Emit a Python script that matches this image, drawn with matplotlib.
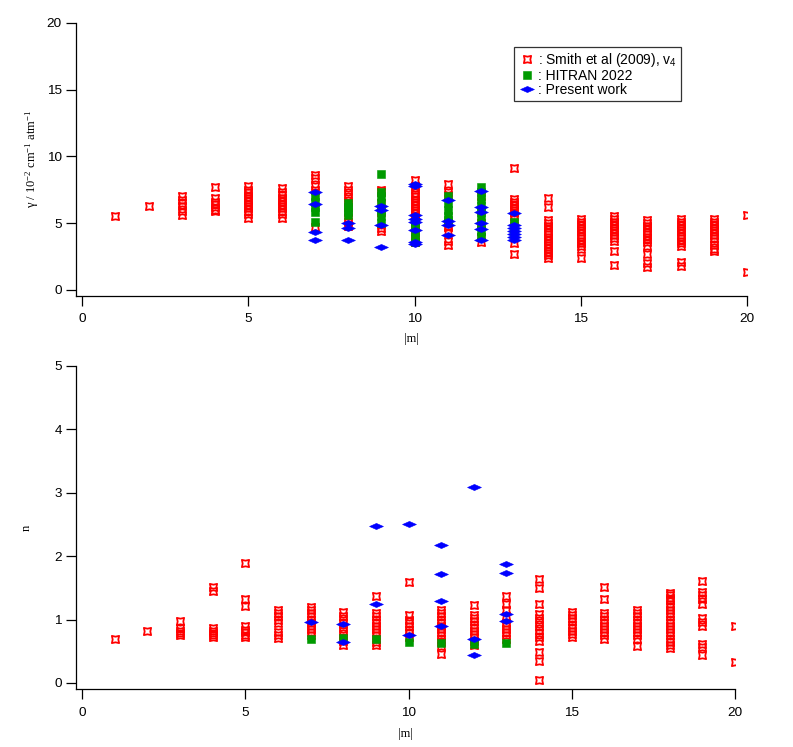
import matplotlib
matplotlib.use('Agg')
import matplotlib.pyplot as plt
import numpy as np
from matplotlib.path import Path

plt.rcParams['font.family'] = ['Liberation Sans', 'DejaVu Sans']
plt.rcParams['mathtext.fontset'] = 'custom'
plt.rcParams['mathtext.rm'] = 'Liberation Serif'
plt.rcParams['mathtext.it'] = 'Liberation Serif:italic'
plt.rcParams['mathtext.sf'] = 'Liberation Sans'

# ---- data: one list of values per |m| ----
# top panel: gamma (10^-2 cm^-1 atm^-1)
smith_m = list(range(1, 21))
smith_gamma = [
    [5.5],
    [6.26],
    [5.6, 5.9, 6.3, 6.5, 6.7, 7.0],
    [7.7, 6.9, 6.6, 6.4, 6.2, 6.0, 5.9],
    [7.8, 7.5, 7.3, 7.1, 6.9, 6.7, 6.5, 6.3, 6.1, 5.9, 5.7, 5.4],
    [7.6, 7.3, 7.1, 6.9, 6.7, 6.5, 6.3, 6.1, 5.9, 5.7, 5.4],
    [8.6, 8.4, 7.8, 7.5, 4.7],
    [7.8, 7.5, 7.2, 6.9, 6.6, 6.2, 5.8, 5.4, 5.1, 4.8],
    [7.5, 7.3, 6.5, 5.8, 4.6, 4.4],
    [8.2, 7.8, 7.5, 7.2, 7.0, 6.8, 6.6, 6.4, 6.2, 6.0, 5.8, 5.6, 5.4, 5.2, 5.0, 4.8, 4.5, 4.2, 3.9, 3.6],
    [7.9, 7.3, 7.1, 5.0, 4.7, 4.3, 3.7, 3.4],
    [7.0, 6.0, 5.0, 4.0, 3.6],
    [9.1, 6.8, 6.6, 6.4, 6.2, 6.0, 5.8, 5.5, 5.3, 3.5, 2.7],
    [6.9, 6.2, 5.2, 5.0, 4.8, 4.6, 4.4, 4.2, 4.0, 3.8, 3.6, 3.4, 3.2, 3.0, 2.8, 2.6, 2.4],
    [5.3, 5.1, 4.9, 4.7, 4.5, 4.3, 4.1, 3.9, 3.7, 3.5, 3.3, 3.1, 2.4],
    [5.5, 5.3, 5.1, 4.9, 4.7, 4.5, 4.3, 4.1, 3.9, 3.7, 2.9, 1.9],
    [5.2, 5.0, 4.8, 4.6, 4.4, 4.2, 4.0, 3.8, 3.6, 3.3, 2.7, 2.0, 1.7],
    [5.3, 5.1, 4.9, 4.7, 4.5, 4.3, 4.1, 3.9, 3.7, 3.5, 3.3, 2.1, 1.8],
    [5.3, 5.1, 4.9, 4.7, 4.5, 4.3, 4.1, 3.9, 3.7, 3.4, 3.1, 2.9],
    [5.6, 1.32],
]
hitran_m = list(range(7, 14))
hitran_gamma = [
    [7.0, 6.6, 6.2, 5.8, 5.1],
    [6.5, 6.2, 5.9, 5.6],
    [8.7, 7.3, 7.0, 6.5, 6.0, 5.5, 5.0],
    [5.1, 4.7, 4.3, 3.9, 3.6],
    [7.0, 6.5, 6.0, 5.5, 5.2],
    [7.7, 7.3, 6.8, 6.3, 5.8, 5.3, 4.8, 4.4, 4.0],
    [5.1, 4.6, 4.2],
]
present_m = list(range(7, 14))
present_gamma = [
    [7.35, 6.43, 4.31, 3.74],
    [4.99, 4.61, 3.74],
    [6.28, 5.98, 4.86, 3.19],
    [7.93, 7.8, 5.6, 5.3, 5.1, 4.49, 3.61, 3.44],
    [6.73, 5.18, 4.86, 4.11],
    [7.43, 6.23, 5.86, 4.99, 4.54, 3.74],
    [5.78, 4.86, 4.6, 4.4, 4.2, 4.0, 3.74],
]

# bottom panel: temperature exponent n
smith_n = [
    [0.70],
    [0.82],
    [0.97, 0.86, 0.82, 0.79, 0.76],
    [1.51, 1.45, 0.86, 0.82, 0.79, 0.76, 0.73],
    [1.89, 1.32, 1.22, 0.90, 0.84, 0.80, 0.76, 0.72],
    [1.15, 1.10, 1.05, 1.00, 0.95, 0.80, 0.75, 0.71],
    [1.20, 1.15, 1.10, 1.05, 1.00, 0.95, 0.90, 0.85, 0.80, 0.76],
    [1.12, 1.05, 1.00, 0.95, 0.88, 0.82, 0.76, 0.70, 0.66, 0.60],
    [1.37, 1.10, 1.05, 1.00, 0.95, 0.90, 0.85, 0.80, 0.75, 0.70, 0.64, 0.60],
    [1.59, 1.07, 1.00, 0.95, 0.90, 0.84, 0.78, 0.72],
    [1.15, 1.10, 1.05, 1.00, 0.95, 0.90, 0.85, 0.80, 0.75, 0.70, 0.65, 0.58, 0.46],
    [1.23, 1.07, 1.02, 0.97, 0.92, 0.87, 0.82, 0.77, 0.72, 0.66, 0.60],
    [1.37, 1.25, 1.15, 1.05, 0.95, 0.90, 0.85, 0.80, 0.75, 0.70],
    [1.64, 1.49, 1.24, 1.08, 1.02, 0.96, 0.90, 0.84, 0.78, 0.72, 0.66, 0.49, 0.35, 0.05],
    [1.12, 1.07, 1.02, 0.97, 0.92, 0.87, 0.82, 0.77, 0.73],
    [1.51, 1.32, 1.10, 1.05, 1.00, 0.95, 0.90, 0.85, 0.80, 0.75, 0.70],
    [1.15, 1.10, 1.05, 1.00, 0.95, 0.90, 0.85, 0.80, 0.75, 0.70, 0.59],
    [1.42, 1.38, 1.34, 1.30, 1.25, 1.20, 1.15, 1.10, 1.05, 1.00, 0.95, 0.90, 0.85, 0.80, 0.75, 0.70, 0.65, 0.60, 0.55],
    [1.60, 1.44, 1.38, 1.32, 1.25, 1.02, 0.96, 0.90, 0.62, 0.56, 0.44],
    [0.90, 0.33],
]
hitran_n = [[0.70], [0.71], [0.69], [0.65], [0.63], [0.62], [0.63]]
present_n = [
    [0.96],
    [0.93, 0.64],
    [2.48, 1.24],
    [2.50, 0.76],
    [2.18, 1.71, 1.29, 0.90],
    [3.09, 0.69, 0.44],
    [1.87, 1.74, 1.09, 0.98],
]


def flatten(ms, vals):
    xs, ys = [], []
    for m, v in zip(ms, vals):
        xs += [m] * len(v)
        ys += v
    return np.array(xs), np.array(ys)


# marker shapes
smith_marker = Path([(-1, -1), (0, -0.78), (1, -1), (0.78, 0), (1, 1), (0, 0.78),
                     (-1, 1), (-0.78, 0), (-1, -1)], closed=True)
diamond = Path([(-1, 0), (0, 0.44), (1, 0), (0, -0.44), (-1, 0)], closed=True)

red = '#ff0000'
green = '#009a00'
blue = '#0000ff'

fig = plt.figure(figsize=(7.93, 7.47), dpi=100)
ax1 = fig.add_axes([75.7/793, 1-295.7/747, (747-75.7)/793, (295.7-22.7)/747])
ax2 = fig.add_axes([75.7/793, 1-689.3/747, (735-75.7)/793, (689.3-365.7)/747])

for ax, s_vals, h_vals, p_vals in [(ax1, smith_gamma, hitran_gamma, present_gamma),
                                   (ax2, smith_n, hitran_n, present_n)]:
    x, y = flatten(smith_m, s_vals)
    ax.plot(x, y, linestyle='none', marker=smith_marker, ms=5.2, mfc='none',
            mec=red, mew=1.3, label=': Smith et al (2009), v$_{\\mathsf{4}}$')
    x, y = flatten(hitran_m, h_vals)
    ax.plot(x, y, linestyle='none', marker='s', ms=5.8, mfc=green, mec=green,
            mew=0.4, label=': HITRAN 2022')
    x, y = flatten(present_m, p_vals)
    ax.plot(x, y, linestyle='none', marker=diamond, ms=10, mfc=blue, mec=blue,
            mew=0.4, label=': Present work')

    for side in ['top', 'right']:
        ax.spines[side].set_visible(False)
    for side in ['left', 'bottom']:
        ax.spines[side].set_linewidth(0.9)
    ax.tick_params(direction='out', length=7, width=0.9, labelsize=9.7, color='black')
    ax.tick_params(axis='x', pad=5.5)
    ax.tick_params(axis='y', pad=3)
    ax.set_xticks([0, 5, 10, 15, 20])
    ax.set_xlabel('|m|', family='Liberation Serif', fontsize=9)

ax1.set_xlim(-0.19, 20)
ax1.set_ylim(-0.43, 20)
ax1.set_yticks([0, 5, 10, 15, 20])
ax1.set_ylabel('γ / 10$^{\\mathrm{-2}}$ cm$^{\\mathrm{-1}}$ atm$^{\\mathrm{-1}}$',
               family='Liberation Serif', fontsize=9)
ax1.yaxis.set_label_coords(-0.052, 0.5)
ax1.xaxis.set_label_coords(0.5, -0.135)

ax2.set_xlim(-0.193, 20)
ax2.set_ylim(-0.1, 5)
ax2.set_yticks([0, 1, 2, 3, 4, 5])
ax2.set_ylabel('n', family='Liberation Serif', fontsize=9)
ax2.yaxis.set_label_coords(-0.065, 0.5)
ax2.xaxis.set_label_coords(0.5, -0.12)

leg = ax1.legend(loc='upper left', bbox_to_anchor=(514/793, 1-47/747),
                 bbox_transform=fig.transFigure, fontsize=10, frameon=True,
                 fancybox=False, handlelength=1.2, handletextpad=0.2,
                 labelspacing=0.0, borderpad=0.3, borderaxespad=0)
leg.get_frame().set_edgecolor('black')
leg.get_frame().set_linewidth(0.9)

fig.savefig('out.png', dpi=100)
